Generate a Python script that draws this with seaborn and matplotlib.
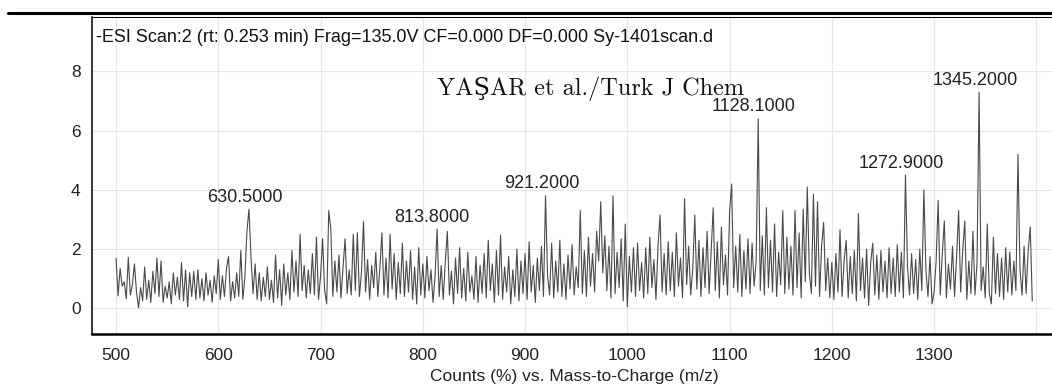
import numpy as np
import pandas as pd
import matplotlib
matplotlib.use("Agg")
import matplotlib.pyplot as plt
from matplotlib.lines import Line2D
import seaborn as sns

# ---------------- data ----------------
mz_start, mz_step = 500, 2
intensity = [
    1.69, 0.42, 1.35, 0.75, 0.90, 0.32, 1.72, 0.45, 0.80, 1.50,
    0.55, 0.02, 0.70, 0.25, 1.40, 0.30, 0.95, 0.20, 1.25, 0.50,
    1.70, 0.40, 1.60, 0.20, 0.75, 0.35, 0.90, 0.15, 1.20, 0.45,
    1.05, 0.30, 1.55, 0.25, 1.30, 0.05, 1.20, 0.40, 1.25, 0.30,
    1.30, 0.35, 1.00, 0.25, 1.20, 0.45, 0.95, 0.20, 1.10, 0.50,
    1.65, 0.30, 1.10, 0.40, 1.35, 1.75, 0.25, 0.90, 0.35, 1.20,
    0.40, 1.95, 0.30, 1.05, 2.60, 3.35, 1.70, 0.50, 1.50, 0.30,
    1.20, 0.25, 1.05, 0.40, 1.40, 0.30, 0.95, 0.20, 1.80, 0.35,
    1.30, 0.10, 1.50, 0.45, 1.20, 0.30, 1.95, 0.55, 1.60, 0.40,
    2.50, 0.60, 1.45, 0.35, 1.30, 0.50, 1.85, 0.45, 2.40, 0.30,
    1.10, 2.35, 0.60, 0.15, 3.30, 2.70, 0.40, 1.60, 0.55, 1.80,
    0.35, 1.40, 2.35, 0.50, 1.30, 0.45, 2.50, 0.60, 2.55, 0.40,
    1.20, 2.93, 0.55, 1.65, 0.30, 1.45, 0.70, 1.90, 0.40, 1.35,
    2.55, 0.45, 1.70, 0.35, 2.50, 0.65, 1.85, 0.30, 1.55, 0.50,
    2.20, 0.40, 1.60, 0.55, 1.95, 0.30, 1.40, 0.15, 2.05, 0.45,
    1.50, 0.35, 1.75, 0.60, 1.30, 0.20, 1.10, 2.68, 0.40, 1.45,
    0.30, 1.60, 2.60, 0.45, 1.25, 0.15, 1.70, 0.50, 2.05, 0.35,
    1.35, 0.25, 1.90, 0.55, 1.10, 0.30, 1.75, 0.20, 1.45, 0.50,
    1.85, 0.35, 2.30, 0.60, 1.50, 0.20, 1.95, 0.45, 2.47, 0.30,
    1.40, 0.55, 1.75, 0.15, 1.30, 0.40, 2.00, 0.25, 1.60, 0.50,
    1.85, 0.30, 2.25, 0.55, 1.45, 0.20, 1.70, 0.60, 2.10, 0.40,
    3.80, 1.10, 0.45, 2.20, 0.35, 1.60, 0.55, 2.30, 0.40, 1.50,
    0.30, 1.80, 0.65, 2.15, 0.45, 1.40, 0.70, 3.30, 0.50, 1.95,
    0.40, 2.40, 0.75, 1.85, 0.55, 2.60, 1.60, 3.60, 1.20, 2.45,
    0.60, 2.10, 0.35, 3.80, 0.50, 1.90, 0.70, 2.35, 0.25, 2.85,
    0.05, 1.75, 0.55, 2.05, 0.40, 2.20, 0.60, 1.55, 0.35, 2.05,
    0.50, 2.40, 0.70, 1.65, 0.30, 2.10, 3.15, 0.55, 1.85, 0.45,
    2.25, 0.60, 1.90, 0.40, 2.55, 0.75, 1.70, 0.35, 3.70, 0.80,
    2.10, 0.45, 1.35, 3.15, 0.65, 2.30, 0.40, 2.05, 0.70, 2.60,
    0.50, 1.95, 3.40, 0.60, 2.25, 0.35, 2.75, 0.80, 1.80, 0.45,
    3.26, 4.20, 0.70, 2.10, 0.55, 2.50, 0.40, 1.95, 0.65, 2.35,
    0.50, 2.20, 0.75, 1.60, 6.40, 0.60, 2.45, 0.45, 3.40, 0.70,
    2.30, 0.55, 2.85, 0.40, 1.90, 0.80, 3.30, 0.50, 2.40, 0.65,
    2.10, 0.45, 3.30, 0.70, 2.55, 0.35, 3.35, 0.90, 4.10, 1.20,
    0.50, 3.85, 0.75, 3.60, 0.40, 2.10, 2.90, 0.60, 1.70, 0.35,
    1.55, 0.30, 1.85, 0.55, 2.65, 0.40, 1.60, 2.30, 0.35, 1.75,
    0.50, 1.95, 0.25, 3.20, 0.60, 1.70, 0.35, 2.00, 0.10, 1.55,
    2.20, 0.45, 1.80, 0.30, 1.95, 0.55, 1.60, 0.35, 2.05, 0.50,
    1.70, 0.40, 2.15, 0.55, 1.90, 0.35, 4.50, 1.40, 0.45, 1.85,
    0.50, 1.65, 0.30, 2.00, 0.60, 4.00, 1.30, 0.40, 1.75, 0.15,
    0.55, 1.60, 3.65, 0.45, 1.85, 2.95, 0.35, 1.50, 0.65, 2.10,
    0.40, 1.75, 3.30, 0.55, 1.95, 2.95, 0.30, 1.60, 0.50, 2.60,
    0.45, 1.55, 7.30, 0.60, 1.40, 0.35, 2.85, 0.50, 0.15, 2.40,
    0.50, 1.85, 0.40, 1.70, 0.30, 2.05, 0.55, 1.90, 0.45, 1.60,
    0.60, 5.20, 1.30, 0.45, 2.10, 0.50, 1.95, 2.75, 0.25,
]
mz = mz_start + mz_step * np.arange(len(intensity))

peak_mz = [630.5, 813.8, 921.2, 1128.1, 1272.9, 1345.2]
peak_height = [3.35, 2.68, 3.80, 6.40, 4.50, 7.30]
peak_labels = ["630.5000", "813.8000", "921.2000", "1128.1000", "1272.9000", "1345.2000"]

x_ticks = [500, 600, 700, 800, 900, 1000, 1100, 1200, 1300, 1400]
x_ticklabels = ["500", "600", "700", "800", "900", "1000", "1100", "1200", "1300", ""]
y_ticks = [0, 2, 4, 6, 8]

title_text = "-ESI Scan:2 (rt: 0.253 min) Frag=135.0V CF=0.000 DF=0.000 Sy-1401scan.d"
x_label = "Counts (%) vs. Mass-to-Charge (m/z)"
watermark = "YAŞAR et al./Turk J Chem"

df = pd.DataFrame({"mz": mz, "counts": intensity})

# ---------------- style ----------------
sns.set_theme(style="whitegrid")
plt.rcParams["font.family"] = ["Liberation Sans", "DejaVu Sans"]

W, H = 1052, 388
fig = plt.figure(figsize=(W / 100, H / 100), dpi=100)
fig.patch.set_facecolor("white")

left_px, right_px, top_px, bottom_px = 91.5, 1056.8, 17.3, 333.5
ax = fig.add_axes([left_px / W, 1 - bottom_px / H,
                   (right_px - left_px) / W, (bottom_px - top_px) / H])
ax.set_facecolor("white")

sns.lineplot(data=df, x="mz", y="counts", ax=ax, color="#4a4a4a",
             linewidth=0.8, estimator=None, sort=False)

ax.set_xlim(476.0, 1420.0)
ax.set_ylim(-0.85, 9.83)
ax.set_xticks(x_ticks)
ax.set_yticks(y_ticks)
ax.set_xticklabels(x_ticklabels)
ax.set_yticklabels([str(t) for t in y_ticks])
ax.grid(True, color="#e6e6e6", linewidth=0.8)
ax.set_axisbelow(True)

ax.tick_params(axis="both", which="major", labelsize=12.5, colors="#222222",
               length=4.3, width=0.8, direction="out")
ax.tick_params(axis="x", pad=6.0, color="#555555")
ax.tick_params(axis="y", pad=3.6, color="#555555")
ax.set_xlabel(x_label, fontsize=12.5, color="#222222", labelpad=4.5)
ax.set_ylabel("")

for side in ["left", "bottom", "top", "right"]:
    ax.spines[side].set_visible(True)
    ax.spines[side].set_color("black")
ax.spines["left"].set_linewidth(1.1)
ax.spines["bottom"].set_linewidth(1.8)
ax.spines["top"].set_linewidth(0.75)
ax.spines["right"].set_linewidth(0.75)

for pmz, ph, lab in zip(peak_mz, peak_height, peak_labels):
    ax.annotate(lab, xy=(pmz, ph), xytext=(-3.6, 8.6), textcoords="offset points",
                ha="center", va="center", fontsize=13, color="#222222")

fig.text(96 / W, 1 - 37 / H, title_text, ha="left", va="center",
         fontsize=13, color="#111111")

fig.text(591 / W, 1 - 89 / H, watermark, ha="center", va="center",
         fontsize=17.5, color="#111111", family=["cmr10", "DejaVu Serif"])

fig.add_artist(Line2D([8 / W, 1.0], [1 - 13.3 / H, 1 - 13.3 / H],
                      transform=fig.transFigure, color="black", linewidth=2.2))

fig.savefig("out.png", dpi=100, facecolor="white")
